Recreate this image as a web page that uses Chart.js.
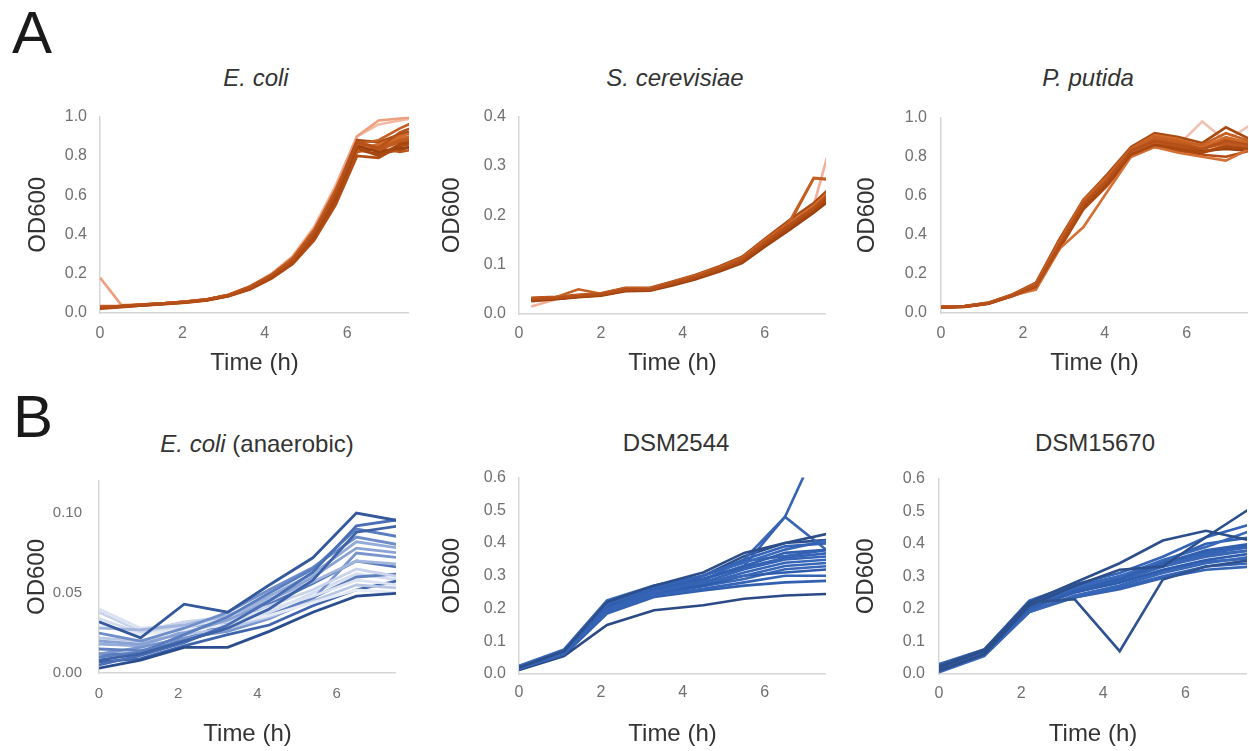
<!DOCTYPE html>
<html><head><meta charset="utf-8">
<script src="https://cdn.jsdelivr.net/npm/chart.js@4.4.1/dist/chart.umd.min.js"></script>
<style>
html,body{margin:0;padding:0;background:#fff;}
body{width:1249px;height:751px;position:relative;overflow:hidden;font-family:"Liberation Sans",Arial,sans-serif;}
canvas{position:absolute;}
.lbl{position:absolute;font-size:60px;color:#1a1a1a;line-height:1;}
.ttl{position:absolute;font-size:24px;color:#333;white-space:nowrap;transform:translate(-50%,-50%);line-height:1;}
</style></head><body>
<div class="lbl" style="left:12px;top:3px;">A</div>
<div class="lbl" style="left:13px;top:387px;">B</div>
<div class="ttl" style="left:256px;top:78px;"><i>E. coli</i></div>
<div class="ttl" style="left:675px;top:78px;"><i>S. cerevisiae</i></div>
<div class="ttl" style="left:1088px;top:78px;"><i>P. putida</i></div>
<div class="ttl" style="left:257px;top:444px;"><i>E. coli</i> (anaerobic)</div>
<div class="ttl" style="left:676px;top:443px;">DSM2544</div>
<div class="ttl" style="left:1095px;top:443px;">DSM15670</div>
<script>
// ---------- tick labels ----------
const xTicks = [0, 2, 4, 6];
const yTicksA1 = [0, 0.2, 0.4, 0.6, 0.8, 1.0];
const yTicksA2 = [0, 0.1, 0.2, 0.3, 0.4];
const yTicksA3 = [0, 0.2, 0.4, 0.6, 0.8, 1.0];
const yTicksB1 = [0, 0.05, 0.10];
const yTicksB2 = [0, 0.1, 0.2, 0.3, 0.4, 0.5, 0.6];
const yTicksB3 = [0, 0.1, 0.2, 0.3, 0.4, 0.5, 0.6];

// ---------- A: E. coli ----------
const timeA1 = [0,0.52,1.04,1.56,2.08,2.6,3.12,3.64,4.16,4.68,5.2,5.72,6.24,6.76,7.28,7.8];
const ecoli1  = [0.03,0.035,0.042,0.048,0.056,0.068,0.09,0.13,0.19,0.27,0.41,0.61,0.87,0.84,0.92,0.96];
const ecoli2  = [0.025,0.033,0.04,0.047,0.055,0.066,0.088,0.125,0.18,0.26,0.39,0.58,0.84,0.80,0.86,0.88];
const ecoli3  = [0.032,0.036,0.043,0.05,0.058,0.07,0.093,0.135,0.195,0.28,0.42,0.63,0.86,0.88,0.94,0.99];
const ecoli4  = [0.028,0.034,0.041,0.048,0.056,0.067,0.089,0.128,0.185,0.265,0.40,0.60,0.85,0.82,0.84,0.85];
const ecoli5  = [0.035,0.037,0.044,0.05,0.057,0.069,0.091,0.132,0.19,0.275,0.415,0.62,0.83,0.86,0.90,0.93];
const ecoli6  = [0.022,0.03,0.038,0.045,0.053,0.064,0.085,0.12,0.175,0.25,0.37,0.55,0.80,0.79,0.85,0.87];
const ecoli7  = [0.03,0.035,0.042,0.049,0.057,0.068,0.09,0.13,0.19,0.27,0.40,0.60,0.86,0.84,0.88,0.90];
const ecoli8  = [0.033,0.036,0.043,0.05,0.058,0.07,0.092,0.133,0.192,0.278,0.42,0.62,0.88,0.87,0.91,0.94];
const ecoli9  = [0.027,0.033,0.04,0.047,0.055,0.066,0.087,0.126,0.183,0.262,0.39,0.58,0.82,0.84,0.82,0.84];
const ecoli10 = [0.18,0.04,0.043,0.05,0.058,0.07,0.092,0.134,0.196,0.285,0.43,0.64,0.90,0.98,0.99,1.0];
const ecoli11 = [0.03,0.036,0.043,0.05,0.058,0.07,0.093,0.136,0.2,0.29,0.44,0.65,0.90,0.96,0.98,1.0];
const ecoli12 = [0.029,0.034,0.041,0.048,0.056,0.067,0.089,0.129,0.187,0.268,0.40,0.60,0.85,0.83,0.87,0.89];
const ecoli13 = [0.031,0.035,0.042,0.049,0.057,0.069,0.092,0.134,0.194,0.28,0.425,0.625,0.86,0.85,0.89,0.91];
const ecoli14 = [0.026,0.032,0.039,0.046,0.054,0.065,0.086,0.123,0.178,0.255,0.38,0.57,0.83,0.81,0.83,0.86];
const colorsA1 = ['#b5501a','#a8470f','#c65f22','#9c4010','#cf6a2b','#b24c14','#c05a1e','#a94a12','#bb5419','#eda07f','#f2b9a3','#c3591c','#d2692a','#a04512'];

// ---------- A: S. cerevisiae ----------
const timeA2 = [0.3,0.9,1.45,2.0,2.6,3.2,3.75,4.3,4.9,5.45,6.0,6.6,7.2,7.8];
const scer1  = [0.03,0.033,0.037,0.04,0.05,0.05,0.063,0.075,0.092,0.11,0.145,0.18,0.215,0.26];
const scer2  = [0.028,0.031,0.035,0.038,0.048,0.048,0.06,0.072,0.088,0.106,0.14,0.175,0.21,0.25];
const scer3  = [0.032,0.034,0.05,0.041,0.052,0.052,0.065,0.078,0.095,0.114,0.15,0.186,0.276,0.272];
const scer4  = [0.026,0.03,0.034,0.037,0.046,0.047,0.058,0.07,0.086,0.103,0.136,0.17,0.205,0.245];
const scer5  = [0.031,0.033,0.038,0.041,0.051,0.051,0.064,0.077,0.094,0.113,0.148,0.184,0.22,0.265];
const scer6  = [0.029,0.032,0.036,0.039,0.049,0.049,0.062,0.074,0.09,0.108,0.142,0.178,0.212,0.255];
const scer7  = [0.015,0.03,0.035,0.038,0.047,0.049,0.06,0.072,0.088,0.105,0.14,0.176,0.22,0.40];
const scer8  = [0.033,0.035,0.039,0.042,0.053,0.053,0.066,0.079,0.097,0.116,0.152,0.19,0.225,0.27];
const scer9  = [0.027,0.031,0.035,0.038,0.048,0.048,0.06,0.073,0.089,0.107,0.14,0.174,0.208,0.248];
const scer10 = [0.03,0.032,0.036,0.04,0.05,0.05,0.062,0.076,0.093,0.112,0.146,0.182,0.275,0.27];
const colorsA2 = ['#b5501a','#a8470f','#c65f22','#9c4010','#cf6a2b','#b24c14','#f2b09a','#a94a12','#bb5419','#c3591c'];

// ---------- A: P. putida ----------
const timeA3 = [0,0.58,1.16,1.74,2.32,2.9,3.48,4.06,4.64,5.22,5.8,6.38,6.96,7.54];
const pput1  = [0.03,0.034,0.05,0.09,0.14,0.35,0.56,0.68,0.83,0.88,0.86,0.84,0.88,0.86];
const pput2  = [0.028,0.032,0.048,0.088,0.135,0.34,0.54,0.66,0.81,0.86,0.84,0.82,0.85,0.84];
const pput3  = [0.032,0.035,0.052,0.093,0.15,0.37,0.58,0.70,0.84,0.90,0.88,0.86,0.92,0.88];
const pput4  = [0.03,0.033,0.049,0.089,0.12,0.33,0.44,0.62,0.80,0.85,0.82,0.80,0.78,0.84];
const pput5  = [0.031,0.034,0.051,0.091,0.145,0.36,0.57,0.69,0.84,0.91,0.89,0.85,0.90,0.87];
const pput6  = [0.027,0.031,0.047,0.086,0.13,0.33,0.53,0.65,0.80,0.85,0.83,0.81,0.80,0.83];
const pput7  = [0.029,0.033,0.05,0.09,0.14,0.35,0.55,0.67,0.82,0.87,0.87,0.84,0.87,0.85];
const pput8  = [0.033,0.036,0.053,0.095,0.155,0.38,0.58,0.71,0.85,0.92,0.90,0.87,0.95,0.89];
const pput9  = [0.03,0.034,0.05,0.09,0.14,0.35,0.55,0.67,0.82,0.87,0.85,0.82,0.86,0.85];
const pput10 = [0.03,0.034,0.05,0.09,0.14,0.36,0.56,0.68,0.83,0.88,0.86,0.98,0.88,0.96];
const pput11 = [0.029,0.032,0.049,0.087,0.137,0.345,0.545,0.665,0.815,0.865,0.85,0.83,0.84,0.83];
const pput12 = [0.031,0.035,0.051,0.092,0.147,0.36,0.57,0.69,0.83,0.89,0.87,0.85,0.89,0.87];
const colorsA3 = ['#b5501a','#a8470f','#c65f22','#d57035','#cf6a2b','#b24c14','#c05a1e','#a94a12','#bb5419','#f0c0b0','#9c4010','#c3591c'];

// ---------- B: E. coli (anaerobic) ----------
const timeB1 = [0,1.05,2.15,3.25,4.3,5.4,6.5,7.6];
const ecan1  = [0.003,0.008,0.016,0.016,0.026,0.038,0.048,0.05];
const ecan2  = [0.032,0.022,0.043,0.038,0.055,0.072,0.1,0.095];
const ecan3  = [0.008,0.012,0.02,0.028,0.04,0.058,0.088,0.092];
const ecan4  = [0.005,0.011,0.019,0.03,0.045,0.063,0.092,0.096];
const ecan5  = [0.01,0.013,0.024,0.035,0.05,0.065,0.09,0.085];
const ecan6  = [0.025,0.02,0.028,0.038,0.052,0.066,0.085,0.08];
const ecan7  = [0.02,0.018,0.025,0.033,0.045,0.06,0.078,0.075];
const ecan8  = [0.028,0.027,0.03,0.036,0.046,0.057,0.07,0.068];
const ecan9  = [0.038,0.026,0.032,0.035,0.042,0.052,0.065,0.06];
const ecan10 = [0.04,0.028,0.03,0.033,0.04,0.048,0.058,0.055];
const ecan11 = [0.03,0.024,0.027,0.03,0.036,0.044,0.052,0.05];
const ecan12 = [0.022,0.02,0.024,0.028,0.035,0.045,0.055,0.053];
const ecan13 = [0.015,0.014,0.02,0.028,0.036,0.047,0.06,0.062];
const ecan14 = [0.012,0.016,0.022,0.026,0.034,0.046,0.075,0.072];
const ecan15 = [0.007,0.009,0.017,0.024,0.03,0.042,0.052,0.058];
const ecan16 = [0.018,0.017,0.026,0.034,0.048,0.062,0.082,0.078];
const ecan17 = [0.034,0.025,0.029,0.032,0.038,0.05,0.062,0.058];
const ecan18 = [0.012,0.012,0.021,0.031,0.043,0.056,0.07,0.066];
const colorsB1 = ['#2a4d8f','#34589c','#3d62a8','#4a6fb5','#5b7ec0','#6e8dc9','#8aa2d3','#a2b5dd','#c9d4ec','#dbe2f2','#e6ebf6','#b8c7e6','#6080c0','#7895cd','#3f64ac','#93abd8','#d3dcf0','#5577bb'];

// ---------- B: DSM2544 ----------
const timeB2 = [0,1.1,2.15,3.3,4.5,5.5,6.5,7.6];
const dsmA1  = [0.02,0.07,0.22,0.27,0.31,0.37,0.40,0.43];
const dsmA2  = [0.015,0.065,0.215,0.265,0.30,0.35,0.39,0.40];
const dsmA3  = [0.025,0.075,0.225,0.27,0.30,0.34,0.38,0.41];
const dsmA4  = [0.02,0.068,0.21,0.26,0.29,0.33,0.37,0.38];
const dsmA5  = [0.018,0.062,0.20,0.25,0.28,0.32,0.35,0.36];
const dsmA6  = [0.022,0.07,0.215,0.255,0.28,0.30,0.33,0.34];
const dsmA7  = [0.02,0.066,0.205,0.25,0.27,0.30,0.31,0.32];
const dsmA8  = [0.016,0.06,0.19,0.24,0.26,0.28,0.30,0.30];
const dsmA9  = [0.012,0.055,0.15,0.195,0.21,0.23,0.24,0.245];
const dsmA10 = [0.02,0.07,0.21,0.26,0.29,0.33,0.48,0.78];
const dsmA11 = [0.02,0.068,0.205,0.255,0.285,0.35,0.48,0.37];
const dsmA12 = [0.024,0.072,0.22,0.265,0.3,0.345,0.36,0.38];
const dsmA13 = [0.014,0.058,0.185,0.235,0.255,0.27,0.28,0.285];
const dsmA14 = [0.019,0.064,0.2,0.245,0.275,0.31,0.34,0.35];
const dsmA15 = [0.02,0.065,0.2,0.25,0.3,0.36,0.4,0.41];
const dsmA16 = [0.023,0.071,0.218,0.262,0.29,0.325,0.355,0.37];
const dsmA17 = [0.017,0.061,0.195,0.243,0.268,0.29,0.32,0.33];
const colorsB2 = ['#2c4f8c','#3563b5','#3a69bb','#3160b0','#3563b5','#3867b8','#2f5dad','#3563b5','#2b4a85','#3563b5','#3a66b5','#3563b5','#3160b0','#3867b8','#2c4f8c','#3563b5','#3867b8'];

// ---------- B: DSM15670 ----------
const timeB3 = [0,1.1,2.2,3.3,4.4,5.45,6.5,7.6];
const dsmB1  = [0.02,0.07,0.22,0.28,0.34,0.41,0.44,0.41];
const dsmB2  = [0.025,0.075,0.22,0.23,0.07,0.29,0.33,0.35];
const dsmB3  = [0.01,0.06,0.21,0.27,0.32,0.33,0.42,0.51];
const dsmB4  = [0.03,0.075,0.225,0.275,0.31,0.36,0.42,0.46];
const dsmB5  = [0.02,0.068,0.21,0.265,0.3,0.35,0.39,0.44];
const dsmB6  = [0.015,0.062,0.2,0.255,0.29,0.34,0.38,0.40];
const dsmB7  = [0.025,0.07,0.215,0.26,0.3,0.34,0.37,0.39];
const dsmB8  = [0.005,0.055,0.19,0.24,0.27,0.31,0.34,0.36];
const dsmB9  = [0.02,0.066,0.205,0.25,0.28,0.32,0.35,0.37];
const dsmB10 = [0.018,0.06,0.195,0.235,0.265,0.30,0.33,0.34];
const dsmB11 = [0.028,0.072,0.22,0.27,0.3,0.33,0.36,0.38];
const dsmB12 = [0.01,0.058,0.19,0.235,0.26,0.295,0.32,0.33];
const dsmB13 = [0.022,0.07,0.21,0.255,0.29,0.345,0.4,0.42];
const dsmB14 = [0.015,0.064,0.2,0.25,0.285,0.33,0.365,0.38];
const dsmB15 = [0.024,0.069,0.212,0.258,0.295,0.335,0.375,0.395];
const dsmB16 = [0.012,0.059,0.193,0.24,0.272,0.315,0.345,0.355];
const colorsB3 = ['#2c4f8c','#2f5290','#2c4f8c','#3563b5','#3a69bb','#3160b0','#3563b5','#3867b8','#2f5dad','#3563b5','#3a66b5','#3563b5','#3160b0','#3867b8','#3563b5','#3a69bb'];

// ---------- layout (positions only) ----------
const FONT = '"Liberation Sans", Arial, sans-serif';
const W = 92, PT = 14;

function makePanel(box, times, series, colors, yTicks, yMax, digits, tickSize, lw) {
  const H = box.H;
  const cv = document.createElement('canvas');
  const cw = W + (box.right - box.left);
  const ch = PT + (box.bottom - box.top) + H;
  cv.width = cw; cv.height = ch;
  cv.style.left = (box.left - W) + 'px';
  cv.style.top = (box.top - PT) + 'px';
  cv.style.width = cw + 'px'; cv.style.height = ch + 'px';
  document.body.appendChild(cv);
  const datasets = series.map((vals, i) => ({
    data: times.map((t, j) => ({x: t, y: vals[j]})),
    borderColor: colors[i % colors.length],
    borderWidth: lw,
    pointRadius: 0,
    tension: 0,
    fill: false
  }));
  new Chart(cv, {
    type: 'line',
    data: {datasets},
    options: {
      responsive: false, animation: false, devicePixelRatio: 1,
      layout: {padding: {top: PT, left: 0, right: 0, bottom: 0}},
      plugins: {legend: {display: false}, tooltip: {enabled: false}, title: {display: false}},
      scales: {
        x: {
          type: 'linear', min: 0, max: 7.5,
          grid: {display: false, drawTicks: false},
          border: {display: true, color: '#d6d6d6', width: 1.5},
          afterBuildTicks: s => { s.ticks = xTicks.map(v => ({value: v})); },
          afterFit: s => { s.height = H; },
          ticks: {color: '#707070', font: {family: FONT, size: tickSize}, padding: box.xTickPad, maxRotation: 0,
                  callback: v => String(v)},
          title: {display: true, text: 'Time (h)', color: '#333', font: {family: FONT, size: 24},
                  padding: {top: 0, bottom: H - box.xTitleOff - 14.4}}
        },
        y: {
          type: 'linear', min: 0, max: yMax,
          grid: {display: false, drawTicks: false},
          border: {display: true, color: '#d6d6d6', width: 1.5},
          afterBuildTicks: s => { s.ticks = yTicks.map(v => ({value: v})); },
          afterFit: s => { s.width = W; },
          ticks: {color: '#707070', font: {family: FONT, size: tickSize}, padding: box.yTickPad,
                  callback: v => Number(v).toFixed(digits)},
          title: {display: true, text: 'OD600', color: '#333', font: {family: FONT, size: 24},
                  padding: {top: W - box.yTitleOff - 14.4, bottom: 0}}
        }
      }
    }
  });
}

makePanel({left:100, top:108, right:409, bottom:313, H:72, yTitleOff:62, yTickPad:13, xTickPad:11, xTitleOff:50},
  timeA1, [ecoli1,ecoli2,ecoli3,ecoli4,ecoli5,ecoli6,ecoli7,ecoli8,ecoli9,ecoli12,ecoli13,ecoli14,ecoli10,ecoli11],
  [colorsA1[0],colorsA1[1],colorsA1[2],colorsA1[3],colorsA1[4],colorsA1[5],colorsA1[6],colorsA1[7],colorsA1[8],colorsA1[11],colorsA1[12],colorsA1[13],colorsA1[9],colorsA1[10]],
  yTicksA1, 1.0, 1, 16, 2.6);
makePanel({left:519, top:108, right:826, bottom:314, H:72, yTitleOff:67, yTickPad:13, xTickPad:10, xTitleOff:49},
  timeA2, [scer1,scer2,scer3,scer4,scer5,scer6,scer8,scer9,scer10,scer7],
  [colorsA2[0],colorsA2[1],colorsA2[2],colorsA2[3],colorsA2[4],colorsA2[5],colorsA2[7],colorsA2[8],colorsA2[9],colorsA2[6]],
  yTicksA2, 0.4, 1, 16, 2.6);
makePanel({left:941, top:108, right:1248, bottom:313, H:72, yTitleOff:74, yTickPad:14, xTickPad:11, xTitleOff:50},
  timeA3, [pput1,pput2,pput3,pput4,pput5,pput6,pput7,pput8,pput9,pput11,pput12,pput10],
  [colorsA3[0],colorsA3[1],colorsA3[2],colorsA3[3],colorsA3[4],colorsA3[5],colorsA3[6],colorsA3[7],colorsA3[8],colorsA3[10],colorsA3[11],colorsA3[9]],
  yTicksA3, 1.0, 1, 16, 2.6);
makePanel({left:99, top:469, right:396, bottom:673, H:82, yTitleOff:62, yTickPad:17, xTickPad:12, xTitleOff:61},
  timeB1, [ecan1,ecan2,ecan3,ecan4,ecan5,ecan6,ecan7,ecan8,ecan9,ecan10,ecan11,ecan12,ecan13,ecan14,ecan15,ecan16,ecan17,ecan18], colorsB1, yTicksB1, 0.12, 2, 15, 2.8);
makePanel({left:519, top:469, right:826, bottom:674, H:82, yTitleOff:67, yTickPad:13, xTickPad:9, xTitleOff:60},
  timeB2, [dsmA1,dsmA2,dsmA3,dsmA4,dsmA5,dsmA6,dsmA7,dsmA8,dsmA9,dsmA10,dsmA11,dsmA12,dsmA13,dsmA14,dsmA15,dsmA16,dsmA17], colorsB2, yTicksB2, 0.6, 1, 16, 2.6);
makePanel({left:939, top:469, right:1247, bottom:674, H:82, yTitleOff:73, yTickPad:14, xTickPad:10, xTitleOff:60},
  timeB3, [dsmB1,dsmB2,dsmB3,dsmB4,dsmB5,dsmB6,dsmB7,dsmB8,dsmB9,dsmB10,dsmB11,dsmB12,dsmB13,dsmB14,dsmB15,dsmB16], colorsB3, yTicksB3, 0.6, 1, 16, 2.6);
</script>
</body></html>
